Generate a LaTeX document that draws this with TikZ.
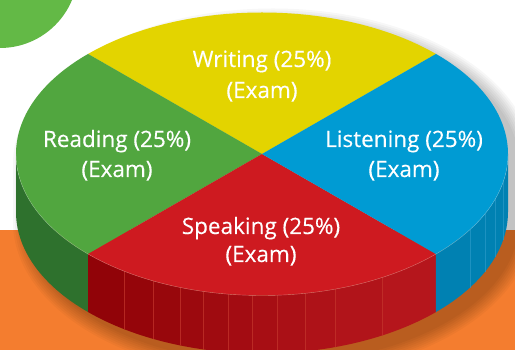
\documentclass[tikz,border=0pt]{standalone}
\usepackage{fontspec}
\setmainfont{Open Sans}
\newfontfamily\lblfont{Open Sans}[FakeBold=0.3]
\definecolor{orangebg}{HTML}{F47D2F}
\definecolor{greencirc}{HTML}{63B946}
\definecolor{ytop}{HTML}{E3D400}
\definecolor{gtop}{HTML}{51A63F}
\definecolor{btop}{HTML}{009BD3}
\definecolor{rtop}{HTML}{CE1A20}
\definecolor{gside}{HTML}{2E712D}
\definecolor{rsideL}{HTML}{910308}
\definecolor{rsideR}{HTML}{B5161C}
\definecolor{rline}{HTML}{C4362C}
\definecolor{bside}{HTML}{0081B2}
\definecolor{bline}{HTML}{2A9AC8}
\begin{document}
\begin{tikzpicture}[x=1pt,y=1pt,
  lbl/.style={text=white,font=\lblfont\fontsize{22.5}{22}\selectfont,anchor=base,inner sep=0pt}]
\def\cx{262}\def\cy{196}\def\rx{246}\def\ry{141.5}\def\dep{58}
\useasboundingbox (0,0) rectangle (515,350);
\fill[white] (0,0) rectangle (515,350);
\fill[orangebg] (0,0) rectangle (515,120);
\begin{scope}
\clip (0,0) rectangle (515,350);
\fill[greencirc] (0,380) circle[radius=78];
% soft shadow
\foreach \e in {0,2,...,14} {
  \fill[black,opacity=0.032] (\cx+11+\rx+\e,\cy-10) arc[start angle=0,end angle=180,x radius=\rx+\e,y radius=\ry+\e]
     -- ++(0,-\dep) arc[start angle=180,end angle=360,x radius=\rx+\e,y radius=\ry+\e] -- cycle;
}
\end{scope}
\coordinate (C) at (\cx,\cy);
% green side
\fill[gside] (C) ++({\rx*cos(180)},{\ry*sin(180)}) arc[start angle=180,end angle=225,x radius=\rx,y radius=\ry]
   -- ++(0,-\dep) arc[start angle=225,end angle=180,x radius=\rx,y radius=\ry] -- cycle;
% red side facets
\foreach \a/\b [count=\i] in {225/235.9,235.9/243.7,243.7/250.5,250.5/256.1,256.1/262.1,262.1/267.7,267.7/273.5,273.5/280.1,280.1/287.3,287.3/299.2,299.2/315} {
  \pgfmathsetmacro\pct{100-(\i-1)*10}
  \fill[rsideL!\pct!rsideR] (C) ++({\rx*cos(\a)},{\ry*sin(\a)}) arc[start angle=\a,end angle=\b,x radius=\rx,y radius=\ry]
     -- ++(0,-\dep) arc[start angle=\b,end angle=\a,x radius=\rx,y radius=\ry] -- cycle;
}
\foreach \a in {235.9,243.7,250.5,256.1,262.1,267.7,273.5,280.1,287.3,299.2} {
  \draw[rline,line width=0.4pt,opacity=0.7] (C) ++({\rx*cos(\a)},{\ry*sin(\a)}) -- ++(0,-\dep);
}
% blue side facets
\fill[bside] (C) ++({\rx*cos(315)},{\ry*sin(315)}) arc[start angle=315,end angle=360,x radius=\rx,y radius=\ry]
   -- ++(0,-\dep) arc[start angle=360,end angle=315,x radius=\rx,y radius=\ry] -- cycle;
\foreach \a in {327.7,335,341.3,348.4} {
  \draw[bline,line width=0.4pt,opacity=0.7] (C) ++({\rx*cos(\a)},{\ry*sin(\a)}) -- ++(0,-\dep);
}
% top slices
\fill[ytop] (C) -- ++({\rx*cos(45)},{\ry*sin(45)}) arc[start angle=45,end angle=135,x radius=\rx,y radius=\ry] -- cycle;
\fill[gtop] (C) -- ++({\rx*cos(135)},{\ry*sin(135)}) arc[start angle=135,end angle=225,x radius=\rx,y radius=\ry] -- cycle;
\fill[rtop] (C) -- ++({\rx*cos(225)},{\ry*sin(225)}) arc[start angle=225,end angle=315,x radius=\rx,y radius=\ry] -- cycle;
\fill[btop] (C) -- ++({\rx*cos(315)},{\ry*sin(315)}) arc[start angle=315,end angle=405,x radius=\rx,y radius=\ry] -- cycle;
\draw[white,opacity=0.35,line width=0.4pt] (C) ++({-\rx},0) arc[start angle=180,end angle=360,x radius=\rx,y radius=\ry];
% labels
\node[lbl] (w1) at (262,283) {Writing (25\%)};
\node[lbl] (w2) at (262,252) {(Exam)};
\node[lbl] (r1) at (117,203) {Reading (25\%)};
\node[lbl] (r2) at (117,173) {(Exam)};
\node[lbl] (l1) at (404,203) {Listening (25\%)};
\node[lbl] (l2) at (404,173) {(Exam)};
\node[lbl] (s1) at (261,116) {Speaking (25\%)};
\node[lbl] (s2) at (261,88) {(Exam)};
\end{tikzpicture}
\end{document}
